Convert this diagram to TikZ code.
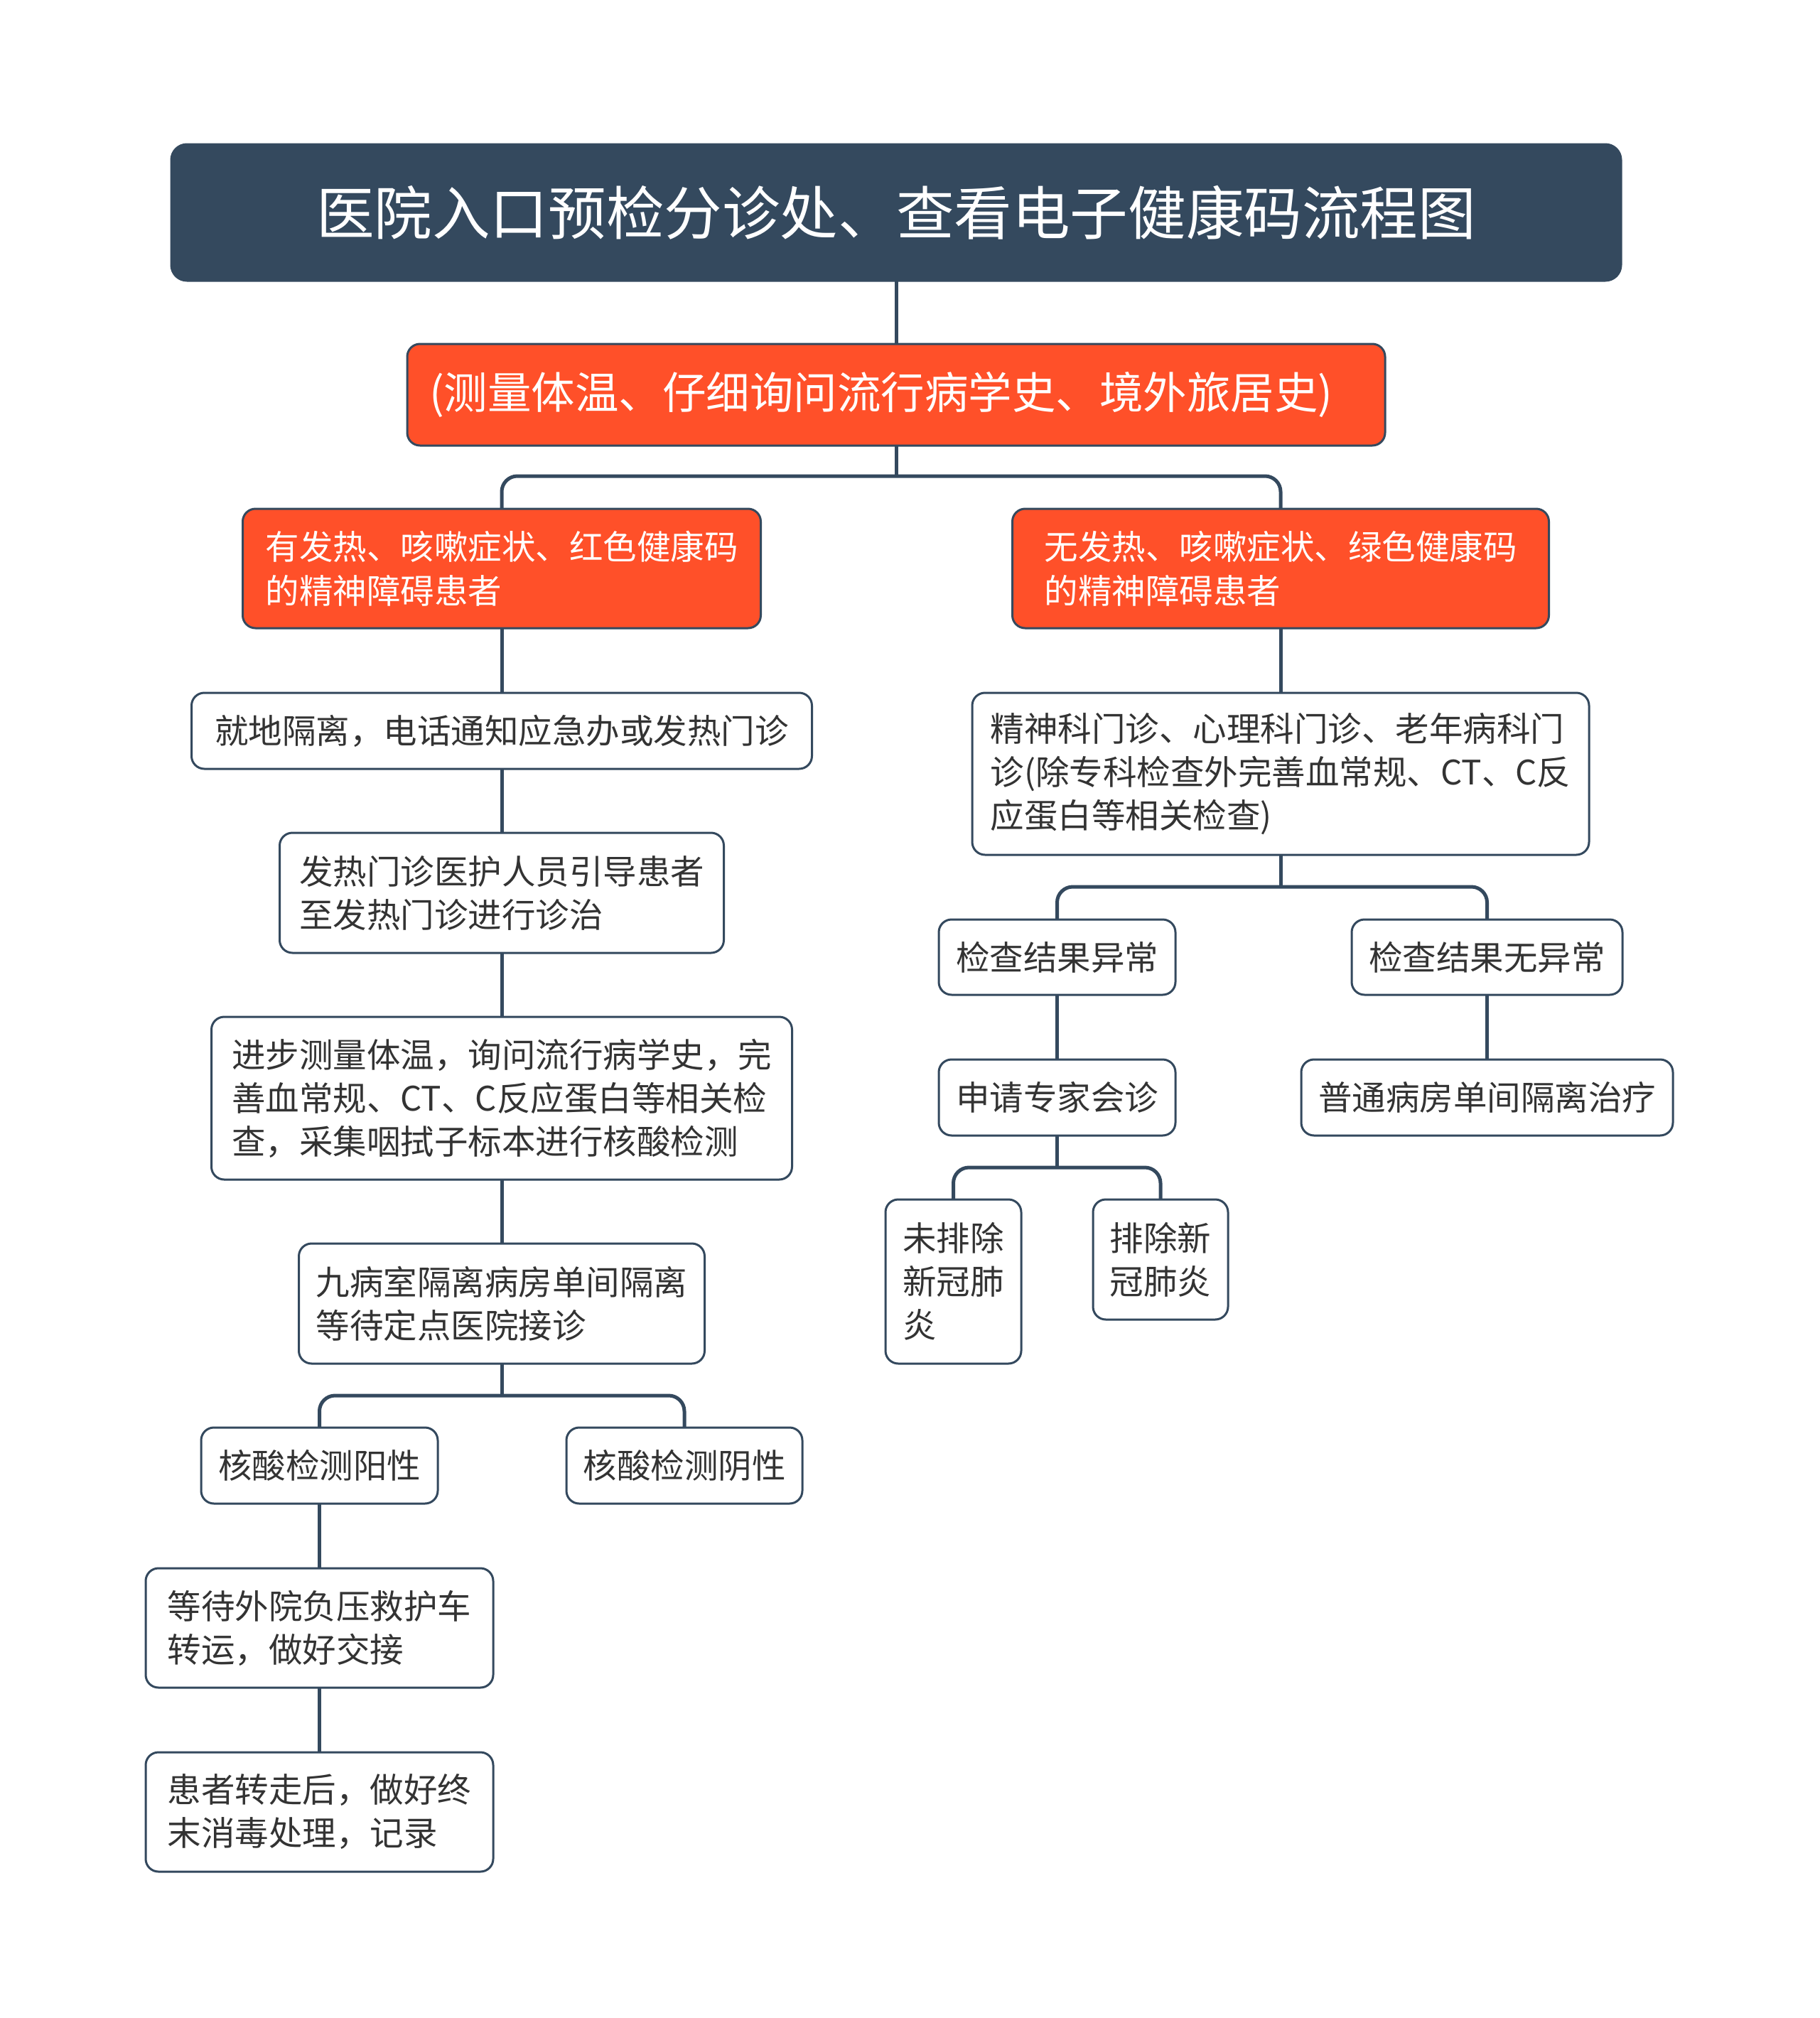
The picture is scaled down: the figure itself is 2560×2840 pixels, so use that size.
\documentclass[tikz,border=0pt]{standalone}
\usepackage{fontspec}
\setmainfont{Noto Sans CJK SC}
\usetikzlibrary{backgrounds}
\definecolor{slate}{HTML}{34495E}
\definecolor{redbox}{HTML}{FF5029}
\definecolor{txt}{HTML}{333333}
\tikzset{
  every node/.style={inner sep=0pt, outer sep=0pt},
  basebox/.style={draw=slate, line width=3pt, rounded corners=18pt, align=left, anchor=center},
  whitebox/.style={basebox, fill=white, text=txt, font=\fontsize{47.5pt}{61pt}\selectfont},
  redfill/.style={basebox, fill=redbox, text=white, font=\fontsize{47.5pt}{61.5pt}\selectfont},
  titlebox/.style={basebox, fill=slate, text=white, align=center, rounded corners=22pt, font=\fontsize{81.6pt}{95pt}\selectfont},
  conn/.style={draw=slate, line width=5pt, rounded corners=22pt},
}
\begin{document}
\begin{tikzpicture}[x=1pt, y=-1pt]
\useasboundingbox (0,0) rectangle (2560,2840);

% top
\node[titlebox, minimum width=2040pt, minimum height=192pt] (title) at (1261,299) {医院入口预检分诊处、查看电子健康码流程图};
\node[redfill, align=left, text width=1314pt, inner xsep=31pt, minimum height=143pt, font=\fontsize{61.5pt}{70pt}\selectfont] (meas) at (1261,555.5) {(测量体温、仔细询问流行病学史、境外旅居史)};
\node[redfill, minimum width=729pt, minimum height=168pt] (fever) at (706,800) {有发热、咳嗽症状、红色健康码\\的精神障碍患者};
\node[redfill, minimum width=755pt, minimum height=168pt] (nofever) at (1802,800) {无发热、咳嗽症状、绿色健康码\\的精神障碍患者};

% left column
\node[whitebox, minimum width=873pt, minimum height=107pt] (b1) at (706,1028.5) {就地隔离，电话通知应急办或发热门诊};
\node[whitebox, minimum width=625pt, minimum height=169pt] (b2) at (706,1256.5) {发热门诊医护人员引导患者\\至发热门诊进行诊治};
\node[whitebox, minimum width=817pt, minimum height=229pt] (b3) at (706,1545.5) {进步测量体温，询问流行病学史，完\\善血常规、CT、C反应蛋白等相关检\\查，采集咽拭子标本进行核酸检测};
\node[whitebox, minimum width=571pt, minimum height=169pt] (b4) at (706,1834.5) {九病室隔离病房单间隔离\\等待定点医院接诊};
\node[whitebox, minimum width=333pt, minimum height=107pt] (pos) at (449.5,2062.5) {核酸检测阳性};
\node[whitebox, minimum width=332pt, minimum height=107pt] (neg) at (963,2062.5) {核酸检测阴性};
\node[whitebox, minimum width=489pt, minimum height=168pt] (b7) at (449.5,2291) {等待外院负压救护车\\转运，做好交接};
\node[whitebox, minimum width=489pt, minimum height=168pt] (b8) at (449.5,2550) {患者转走后，做好终\\末消毒处理，记录};

% right column
\node[whitebox, minimum width=868pt, minimum height=228pt] (r1) at (1802,1089) {精神科门诊、心理科门诊、老年病科门\\诊(除专科检查外完善血常规、CT、C反\\应蛋白等相关检查)};
\node[whitebox, minimum width=333pt, minimum height=106pt] (abn) at (1487.5,1347) {检查结果异常};
\node[whitebox, minimum width=381pt, minimum height=106pt] (nor) at (2092.5,1347) {检查结果无异常};
\node[whitebox, minimum width=333pt, minimum height=107pt] (exp) at (1487.5,1544.5) {申请专家会诊};
\node[whitebox, minimum width=523pt, minimum height=107pt] (ward) at (2092.5,1544.5) {普通病房单间隔离治疗};
\node[whitebox, minimum width=191pt, minimum height=231pt] (notex) at (1341.5,1803.5) {未排除\\新冠肺\\炎};
\node[whitebox, minimum width=190pt, minimum height=169pt] (excl) at (1633,1772.5) {排除新\\冠肺炎};

\begin{pgfonlayer}{background}
  \fill[white] (0,0) rectangle (2560,2840);
  \draw[conn] (title.south) -- (meas.north);
  \coordinate (j1) at (1261,670);
  \draw[conn] (meas.south) -- (j1);
  \draw[conn] (fever.north) |- (j1) -| (nofever.north);

  \draw[conn] (fever.south) -- (b1.north);
  \draw[conn] (b1.south) -- (b2.north);
  \draw[conn] (b2.south) -- (b3.north);
  \draw[conn] (b3.south) -- (b4.north);
  \coordinate (j2) at (706,1964);
  \draw[conn] (b4.south) -- (j2);
  \draw[conn] (pos.north) |- (j2) -| (neg.north);
  \draw[conn] (pos.south) -- (b7.north);
  \draw[conn] (b7.south) -- (b8.north);

  \draw[conn] (nofever.south) -- (r1.north);
  \coordinate (j3) at (1802,1248);
  \draw[conn] (r1.south) -- (j3);
  \draw[conn] (abn.north) |- (j3) -| (nor.north);
  \draw[conn] (abn.south) -- (exp.north);
  \draw[conn] (nor.south) -- (ward.north);
  \coordinate (j4) at (1487.5,1643);
  \draw[conn] (exp.south) -- (j4);
  \draw[conn] (notex.north) |- (j4) -| (excl.north);
\end{pgfonlayer}
\end{tikzpicture}
\end{document}
